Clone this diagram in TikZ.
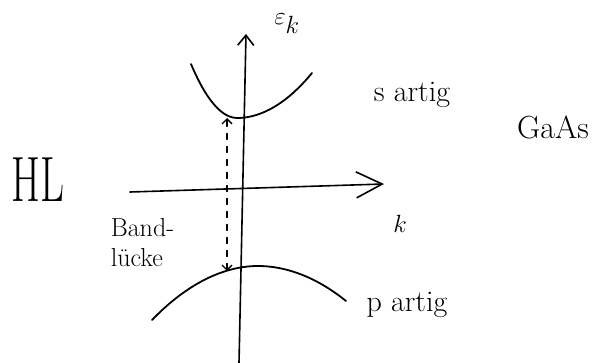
\documentclass[tikz,border=0pt]{standalone}
\usepackage{tikz}
\usetikzlibrary{positioning,arrows.meta}

\begin{document}
\begin{tikzpicture}[
  x=1pt, y=-1pt,
  line width=1.6pt, line cap=round, line join=round,
  axis/.style={-{Straight Barb[length=10pt,width=16pt,line width=1.6pt]}},
  kaxis/.style={-{Straight Barb[length=26pt,width=26pt,line width=1.6pt]}},
  band/.style={line width=1.8pt},
  gap/.style={{Straight Barb[length=5pt,width=10pt,line width=1.3pt]}-{Straight Barb[length=5pt,width=10pt,line width=1.3pt]}, line width=1.3pt, dash pattern=on 6pt off 7pt},
  lbl/.style={inner sep=0pt, anchor=center}
]
\useasboundingbox (0,0) rectangle (596,363);
% axes
\coordinate (ebot) at (239,363);
\coordinate (etop) at (246,34);
\coordinate (kleft) at (130,192);
\coordinate (kright) at (384,184);
\draw[axis] (ebot) -- (etop);
\draw[kaxis] (kleft) -- (kright);
\node[lbl, font=\fontsize{36}{36}\selectfont] (eps) at (287,24) {$\varepsilon_k$};
\node[lbl, font=\fontsize{28}{28}\selectfont] (kk) at (400,224) {$k$};
% bands
\coordinate (cl) at (191,64);
\coordinate (cmin) at (237,118);
\coordinate (cr) at (312,73);
\draw[band] (cl) parabola bend (cmin) (cr);
\coordinate (vl) at (152,320);
\coordinate (vmax) at (258,266);
\coordinate (vr) at (346,301);
\draw[band] (vl) parabola bend (vmax) (vr);
% gap
\coordinate (gtop) at (227,118);
\coordinate (gbot) at (227,271);
\draw[gap] (gbot) -- (gtop);
% labels
\node[lbl, font=\fontsize{64}{64}\selectfont] (hl) at (38,180) {\scalebox{0.65}[1]{HL}};
\node[lbl, font=\fontsize{30}{30}\selectfont] (sart) at (412,95) {s artig};
\node[lbl, font=\fontsize{32}{32}\selectfont] (gaas) at (553,127) {GaAs};
\node[lbl, font=\fontsize{30}{30}\selectfont] (part) at (407,305) {p artig};
\node[lbl, anchor=west, font=\fontsize{26}{30}\selectfont, align=left] (bl) at (110,243) {Band-\\lücke};
\end{tikzpicture}
\end{document}
